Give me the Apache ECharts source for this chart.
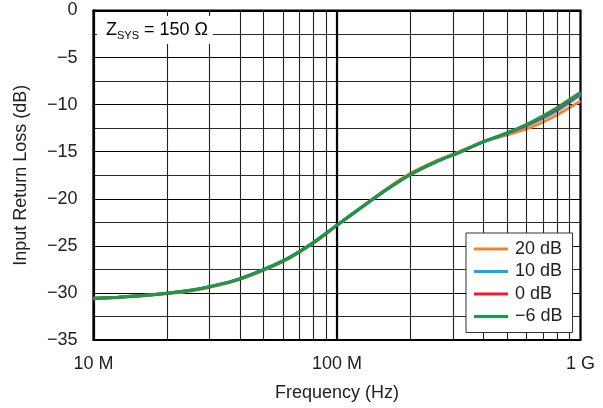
<!DOCTYPE html>
<html>
<head>
<meta charset="utf-8">
<script src="https://cdn.jsdelivr.net/npm/echarts@6/dist/echarts.min.js"></script>
<style>html,body{margin:0;padding:0;background:#fff}#c{width:603px;height:408px}</style>
</head>
<body>
<div id="c"></div>
<script>
// Frequencies in MHz (log-spaced)
var freqMHz = [10, 12.59, 15.85, 19.95, 25.12, 31.62, 39.81, 50.12, 63.1, 79.43, 100, 125.9, 158.5, 199.5, 251.2, 316.2, 398.1, 501.2, 631, 794.3, 1000];
var seriesNames = ['20 dB', '10 dB', '0 dB', '\u22126 dB'];
var gain20 = [-30.62, -30.5, -30.33, -30.1, -29.8, -29.28, -28.58, -27.58, -26.38, -24.78, -22.85, -20.9, -19.0, -17.33, -16.05, -15.02, -13.95, -13.2, -12.37, -11.15, -9.62];
var gain10 = [-30.57, -30.45, -30.28, -30.04, -29.72, -29.2, -28.5, -27.5, -26.3, -24.7, -22.8, -20.92, -19.1, -17.45, -16.15, -15.1, -13.96, -13.05, -12.0, -10.72, -8.95];
var gain0 = [-30.57, -30.45, -30.28, -30.04, -29.72, -29.2, -28.5, -27.5, -26.3, -24.7, -22.8, -20.92, -19.1, -17.45, -16.15, -15.1, -13.96, -13.0, -11.9, -10.55, -8.8];
var gainM6 = [-30.57, -30.45, -30.28, -30.04, -29.72, -29.2, -28.5, -27.5, -26.3, -24.7, -22.8, -20.92, -19.1, -17.45, -16.15, -15.1, -13.96, -12.98, -11.82, -10.38, -8.69];
var xMinorGrid = [2e7, 3e7, 4e7, 5e7, 6e7, 7e7, 8e7, 9e7, 2e8, 3e8, 4e8, 5e8, 6e8, 7e8, 8e8, 9e8];
var xLabels = {10000000: '10 M', 100000000: '100 M', 1000000000: '1 G'};

function pairs(vals) {
  return freqMHz.map(function (f, i) { return [f * 1e6, vals[i]]; });
}
var colors = ['#F0862A', '#16A9E6', '#E8202A', '#0E9F4E'];
var allVals = [gain20, gain10, gain0, gainM6];
var FONT = 'Liberation Sans, Arial, Helvetica, sans-serif';
var FS = 18;

var series = [{
  name: 'grid',
  type: 'line',
  data: [],
  silent: true,
  z: 1,
  markLine: {
    silent: true,
    symbol: 'none',
    label: {show: false},
    animation: false,
    data: xMinorGrid.map(function (v) {
      return {xAxis: v, lineStyle: {color: '#222', width: 1.1, type: 'solid'}};
    }).concat([{xAxis: 1e8, lineStyle: {color: '#000', width: 2.2, type: 'solid'}}])
  }
}];
allVals.forEach(function (vals, i) {
  series.push({
    name: seriesNames[i],
    type: 'line',
    data: pairs(vals),
    smooth: 0.3,
    showSymbol: false,
    symbol: 'none',
    z: 3 + i,
    lineStyle: {color: colors[i], width: 3},
    itemStyle: {color: colors[i]}
  });
});

var chart = echarts.init(document.getElementById('c'), null, {renderer: 'canvas'});
chart.setOption({
  animation: false,
  backgroundColor: '#fff',
  grid: {left: 93.5, right: 22.5, top: 10.5, bottom: 68, show: true, borderColor: '#000', borderWidth: 2.2, backgroundColor: 'transparent'},
  xAxis: {
    type: 'log',
    logBase: 10,
    min: 1e7,
    max: 1e9,
    name: 'Frequency (Hz)',
    nameLocation: 'middle',
    nameGap: 44,
    nameTextStyle: {fontFamily: FONT, fontSize: FS, color: '#222'},
    axisLine: {show: true, lineStyle: {color: '#000', width: 2.2}},
    axisTick: {show: false},
    axisLabel: {
      margin: 15,
      fontFamily: FONT, fontSize: FS, color: '#222',
      formatter: function (v) { return xLabels[Math.round(v)] || ''; }
    },
    splitLine: {show: true, lineStyle: {color: '#000', width: 1.1}}
  },
  yAxis: {
    type: 'value',
    min: -35,
    max: 0,
    interval: 5,
    name: 'Input Return Loss (dB)',
    nameLocation: 'middle',
    nameGap: 63,
    nameTextStyle: {fontFamily: FONT, fontSize: FS, color: '#222'},
    axisLine: {show: true, lineStyle: {color: '#000', width: 2.2}},
    axisTick: {show: false},
    axisLabel: {
      margin: 16,
      fontFamily: FONT, fontSize: FS, color: '#222',
      formatter: function (v) { return v < 0 ? '\u2212' + Math.abs(v) : String(v); }
    },
    splitLine: {show: true, lineStyle: {color: '#000', width: 1.1}},
    minorTick: {show: false, splitNumber: 2},
    minorSplitLine: {show: true, lineStyle: {color: '#2a2a2a', width: 1.1}}
  },
  legend: {
    data: seriesNames,
    orient: 'vertical',
    left: 466,
    top: 233,
    width: 108,
    icon: 'rect',
    itemWidth: 34,
    itemHeight: 3,
    itemGap: 4.5,
    padding: [7, 10, 7, 8],
    backgroundColor: '#fff',
    borderColor: '#333',
    borderWidth: 1,
    z: 20,
    textStyle: {fontFamily: FONT, fontSize: FS, color: '#222', padding: [0, 0, 0, 2]}
  },
  graphic: [{
    type: 'text',
    left: 97,
    top: 16,
    z: 100,
    style: {
      text: '{a|Z}{b|SYS}{a| = 150 \u03A9}',
      backgroundColor: '#fff',
      padding: [3, 5, 3, 9],
      rich: {
        a: {fontFamily: FONT, fontSize: FS, color: '#222', lineHeight: 22},
        b: {fontFamily: FONT, fontSize: 11, color: '#222', lineHeight: 10, verticalAlign: 'bottom'}
      }
    }
  }],
  series: series
});
</script>
</body>
</html>
